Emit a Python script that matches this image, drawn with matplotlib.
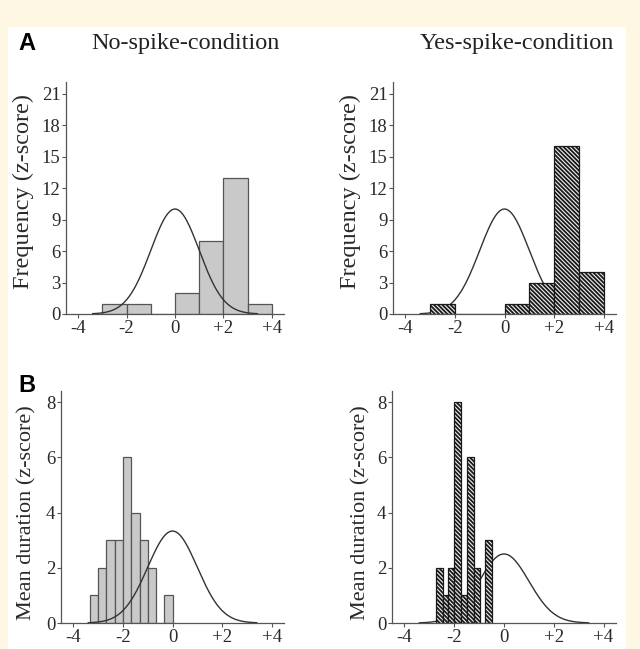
import numpy as np
import matplotlib.pyplot as plt
from matplotlib.patches import Rectangle

# histogram data
edges_freq = [-3, -2, -1, 0, 1, 2, 3, 4]
freq_no = [1, 1, 0, 2, 7, 13, 1]
freq_yes = [1, 0, 0, 1, 3, 16, 4]

edges_dur_no = [-3.33, -3.0, -2.67, -2.33, -2.0, -1.67, -1.33, -1.0, -0.67, -0.33, 0.0]
dur_no = [1, 2, 3, 3, 6, 4, 3, 2, 0, 1]
edges_dur_yes = [-2.75, -2.45, -2.25, -2.0, -1.72, -1.5, -1.22, -0.97, -0.75, -0.47]
dur_yes = [2, 1, 2, 8, 1, 6, 2, 0, 3]

# normal reference curves (mean 0, sd 1), peak heights
curve_peak = [10, 10, 3.33, 2.5]

xticks = [-4, -2, 0, 2, 4]
xticklabels = ['-4', '-2', '0', '+2', '+4']
yticks_freq = [0, 3, 6, 9, 12, 15, 18, 21]
yticks_dur = [0, 2, 4, 6, 8]

serif = 'Liberation Serif'
cream = '#fdf7e4'
gray_bar = '#c9c9c9'
line_col = '#333333'
plt.rcParams['hatch.linewidth'] = 1.3

fig = plt.figure(figsize=(6.4, 6.49), dpi=100, facecolor=cream)
fig.patches.append(Rectangle((8/640, 0), 618/640, 622/649, transform=fig.transFigure,
                             facecolor='white', edgecolor='none', zorder=-5))

def make_ax(rect, ylim, yticks, ylabel, lab_size, lab_x, lab_y):
	ax = fig.add_axes(rect)
	ax.set_facecolor('none')
	ax.set_xlim(-4.5, 4.5)
	ax.set_ylim(0, ylim)
	for s in ['top', 'right']:
		ax.spines[s].set_visible(False)
	for s in ['left', 'bottom']:
		ax.spines[s].set_color('#555555')
		ax.spines[s].set_linewidth(0.9)
	ax.set_xticks(xticks)
	ax.set_xticklabels(xticklabels)
	ax.set_yticks(yticks)
	ax.tick_params(length=3, width=0.8, color='#555555', pad=1, labelcolor='#2a2a2a')
	for lab in ax.get_xticklabels() + ax.get_yticklabels():
		lab.set_family(serif)
		lab.set_fontsize(13.5)
	ax.set_ylabel(ylabel, family=serif, fontsize=lab_size, color='#2a2a2a')
	ax.yaxis.set_label_coords(lab_x, lab_y)
	return ax

def curve(ax, peak, z):
	x = np.linspace(-3.4, 3.4, 200)
	ax.plot(x, peak * np.exp(-x**2 / 2), color=line_col, lw=1.0, zorder=z)

def gray_hist(ax, edges, h):
	ax.bar(edges[:-1], h, width=np.diff(edges), align='edge', color=gray_bar,
	       edgecolor='#555555', linewidth=0.9, zorder=2)

def hatch_hist(ax, edges, h):
	ax.bar(edges[:-1], h, width=np.diff(edges), align='edge', color='#eeeeee',
	       edgecolor='#1a1a1a', hatch='\\\\\\\\\\\\\\\\', linewidth=0.9, zorder=2)

ax1 = make_ax([66/640, 335/649, 218/640, 232/649], 22.1, yticks_freq,
              'Frequency (z-score)', 17.5, -0.147, 0.528)
gray_hist(ax1, edges_freq, freq_no)
curve(ax1, curve_peak[0], 3)

ax2 = make_ax([393/640, 335/649, 223/640, 232/649], 22.1, yticks_freq,
              'Frequency (z-score)', 17.5, -0.143, 0.528)
hatch_hist(ax2, edges_freq, freq_yes)
curve(ax2, curve_peak[1], 1)

ax3 = make_ax([61/640, 26/649, 223/640, 232/649], 8.4, yticks_dur,
              'Mean duration (z-score)', 16, -0.108, 0.474)
gray_hist(ax3, edges_dur_no, dur_no)
curve(ax3, curve_peak[2], 3)

ax4 = make_ax([392/640, 26/649, 224/640, 232/649], 8.4, yticks_dur,
              'Mean duration (z-score)', 16, -0.098, 0.474)
hatch_hist(ax4, edges_dur_yes, dur_yes)
curve(ax4, curve_peak[3], 1)

fig.text(185/640, 1 - 44/649, 'No-spike-condition', family=serif, fontsize=17.5,
         color='#222222', ha='center', va='center')
fig.text(517/640, 1 - 44/649, 'Yes-spike-condition', family=serif, fontsize=17.5,
         color='#222222', ha='center', va='center')
fig.text(18/640, 1 - 44/649, 'A', family='Liberation Sans', fontsize=17,
         fontweight='bold', ha='left', va='center')
fig.text(18/640, 1 - 386/649, 'B', family='Liberation Sans', fontsize=17,
         fontweight='bold', ha='left', va='center')

fig.savefig('out.png', dpi=100, facecolor=cream)
